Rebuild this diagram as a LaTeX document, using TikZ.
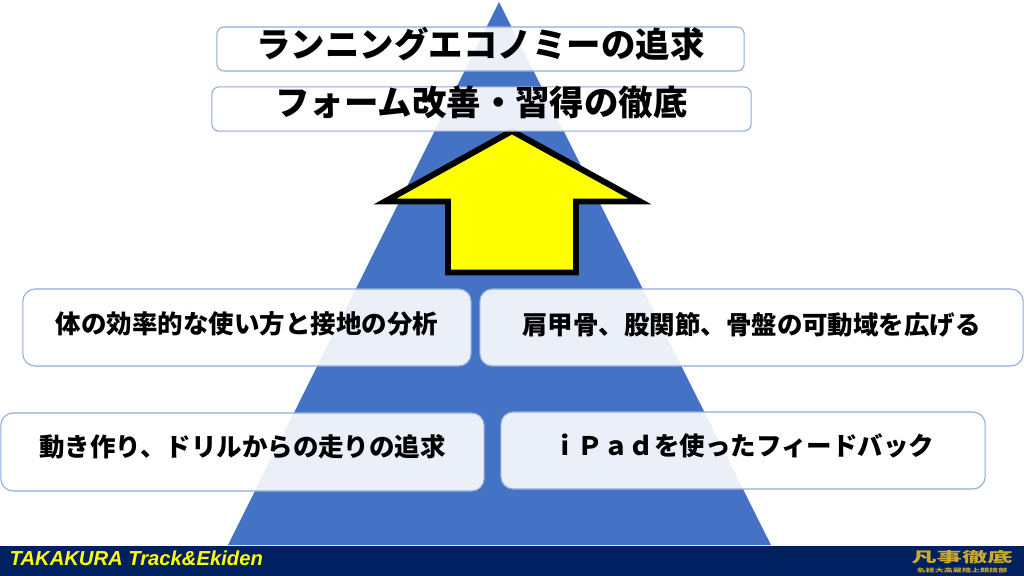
\documentclass[tikz,border=0pt]{standalone}
\usepackage{fontspec}
\setmainfont{Noto Sans CJK JP}
\newfontfamily\footfont{Liberation Sans}
\usepackage{tikz}
\definecolor{pyramidblue}{HTML}{4472C4}
\definecolor{boxline}{HTML}{8FAADC}
\definecolor{footnavy}{HTML}{002060}
\definecolor{logogold}{HTML}{C9A92C}
\definecolor{arrowyellow}{HTML}{FFFF00}
\tikzstyle{box} = [rectangle, draw=boxline, line width=0.3pt, fill=white, fill opacity=0.89,
    text opacity=1, inner sep=0pt, text height=1em, font=\bfseries]
\tikzstyle{big} = [box, rounded corners=2pt, text height=0.8em, font=\fontsize{9.8pt}{11pt}\selectfont\bfseries]
\tikzstyle{small} = [box, rounded corners=3.5pt, font=\fontsize{7.25pt}{9pt}\selectfont\bfseries]
\tikzstyle{logo} = [text=logogold, inner sep=0pt]

\begin{document}
\begin{tikzpicture}[x=0.01cm, y=-0.01cm]
    \useasboundingbox (0,0) rectangle (1024,576);
    % Draw background shapes
    \fill [pyramidblue] (499,2) -- (771,545) -- (228,545) -- cycle;
    \draw [fill=arrowyellow, line width=1.7pt, miter limit=10] (512,131) -- (640,201.5) -- (576,201.5)
        -- (576,272.5) -- (448,272.5) -- (448,201.5) -- (385,201.5) -- cycle;
    \fill [footnavy] (0,545.5) rectangle (1024,576);
    % Place nodes
    \node [big, minimum width=5.27cm, minimum height=0.44cm, text depth=0.33em] (economy) at (480.5,49) {ランニングエコノミーの追求};
    \node [big, minimum width=5.39cm, minimum height=0.44cm, text depth=0.454em] (form) at (481.5,109) {フォーム改善・習得の徹底};
    \node [small, minimum width=4.48cm, minimum height=0.77cm, text depth=0.65em] (body) at (247,327.5) {体の効率的な使い方と接地の分析};
    \node [small, minimum width=5.43cm, minimum height=0.77cm, text depth=0.6em] (joint) at (751.5,327.5) {肩甲骨、股関節、骨盤の可動域を広げる};
    \node [small, minimum width=4.83cm, minimum height=0.78cm, text depth=0.74em] (drill) at (242.5,452) {動き作り、ドリルからの走りの追求};
    \node [small, minimum width=4.84cm, minimum height=0.77cm, text depth=0.72em] (ipad) at (743,450.5) {ｉＰａｄを使ったフィードバック};
    \node [anchor=west, inner sep=0pt, text=arrowyellow, font=\footfont\fontsize{5.75pt}{7pt}\selectfont\bfseries\itshape] (team) at (9,558) {TAKAKURA Track\&Ekiden};
    \node [logo, font=\fontsize{4pt}{5pt}\selectfont\bfseries] (motto) at (962,557) {\scalebox{1.8}[1]{凡事徹底}};
    \node [logo, font=\fontsize{1.5pt}{2pt}\selectfont\bfseries] (club) at (962,570.5) {\scalebox{1.72}[1]{名経大高蔵陸上競技部}};
\end{tikzpicture}
\end{document}
